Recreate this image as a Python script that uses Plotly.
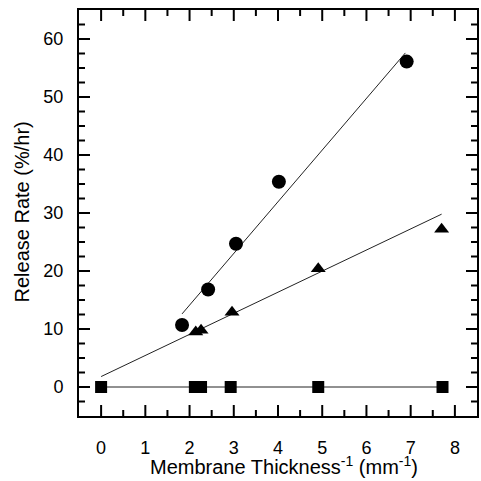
import numpy as np
import plotly.graph_objects as go

# Data
circle_x = [1.83, 2.42, 3.05, 4.02, 6.91]
circle_y = [10.7, 16.8, 24.7, 35.4, 56.1]
tri_x = [2.14, 2.26, 2.96, 4.91, 7.7]
tri_y = [9.5, 9.8, 12.9, 20.4, 27.2]
sq_x = [0.0, 2.12, 2.26, 2.93, 4.91, 7.72]
sq_y = [0, 0, 0, 0, 0, 0]

circle_fit_x = [1.83, 6.88]
circle_fit_y = [12.6, 57.6]
tri_fit_x = [0.0, 7.7]
tri_fit_y = [1.8, 29.8]
sq_fit_x = [0.0, 7.72]
sq_fit_y = [0, 0]

x_range = [-0.5, 8.5]
y_range = [-5, 65]
x_ticks = [0, 1, 2, 3, 4, 5, 6, 7, 8]
y_ticks = [0, 10, 20, 30, 40, 50, 60]
x_minor_step = 0.5
y_minor_step = 2.5
x_title = "Membrane Thickness<sup>-1</sup> (mm<sup>-1</sup>)"
y_title = "Release Rate (%/hr)"

x_minor = [v for v in np.arange(x_range[0] + x_minor_step, x_range[1], x_minor_step)
           if min(abs(v - t) for t in x_ticks) > 1e-6]
y_minor = [v for v in np.arange(y_range[0] + y_minor_step, y_range[1], y_minor_step)
           if min(abs(v - t) for t in y_ticks) > 1e-6]

fig = go.Figure()
line_style = dict(color="#222", width=1)
for fx, fy in [(circle_fit_x, circle_fit_y), (tri_fit_x, tri_fit_y), (sq_fit_x, sq_fit_y)]:
    fig.add_trace(go.Scatter(x=fx, y=fy, mode="lines", line=line_style, showlegend=False))
fig.add_trace(go.Scatter(x=circle_x, y=circle_y, mode="markers",
                         marker=dict(symbol="circle", size=14, color="black"), showlegend=False))
fig.add_trace(go.Scatter(x=tri_x, y=tri_y, mode="markers",
                         marker=dict(symbol="triangle-up", size=13, color="black"), showlegend=False))
fig.add_trace(go.Scatter(x=sq_x, y=sq_y, mode="markers",
                         marker=dict(symbol="square", size=12, color="black"), showlegend=False))

# Inside tick marks on all four frame edges (clipped to the plot area, so only the inner half shows)
def tick_trace(xs, ys, symbol, size):
    return go.Scatter(x=xs, y=ys, mode="markers", cliponaxis=True, hoverinfo="skip",
                      showlegend=False,
                      marker=dict(symbol=symbol, size=size,
                                  line=dict(color="black", width=2), color="black"))

major_size = 15.7   # ~11 px inside
minor_size = 8.6    # ~6 px inside
for ypos in y_range:
    fig.add_trace(tick_trace(x_ticks, [ypos] * len(x_ticks), "line-ns", major_size))
    fig.add_trace(tick_trace(x_minor, [ypos] * len(x_minor), "line-ns", minor_size))
for xpos in x_range:
    fig.add_trace(tick_trace([xpos] * len(y_ticks), y_ticks, "line-ew", major_size))
    fig.add_trace(tick_trace([xpos] * len(y_minor), y_minor, "line-ew", minor_size))

font = dict(family="Liberation Sans, Arial, sans-serif", size=18, color="black")
title_font = dict(family="Liberation Sans, Arial, sans-serif", size=20, color="black")
fig.update_xaxes(
    range=x_range, tickvals=x_ticks,
    showgrid=False, zeroline=False, showline=True, linecolor="black", linewidth=2,
    mirror=True, ticks="", tickfont=font, ticklabelstandoff=14,
)
fig.update_yaxes(
    range=y_range, tickvals=y_ticks, ticksuffix="\u00a0\u00a0",
    showgrid=False, zeroline=False, showline=True, linecolor="black", linewidth=2,
    mirror=True, ticks="", tickfont=font, ticklabelstandoff=10,
)
fig.add_annotation(text=x_title, xref="paper", yref="paper", x=0.515, y=-0.123,
                   xanchor="center", yanchor="middle", showarrow=False, font=title_font)
fig.add_annotation(text=y_title, xref="paper", yref="paper", x=-0.1425, y=0.502,
                   xanchor="center", yanchor="middle", showarrow=False, textangle=-90,
                   font=title_font)
fig.update_layout(
    width=481, height=481,
    margin=dict(l=79, r=2, t=10, b=65),
    plot_bgcolor="white", paper_bgcolor="white",
    font=font, showlegend=False,
)
fig.write_html("out.html", post_script="document.body.style.margin='0';",
               config={"displayModeBar": False})
